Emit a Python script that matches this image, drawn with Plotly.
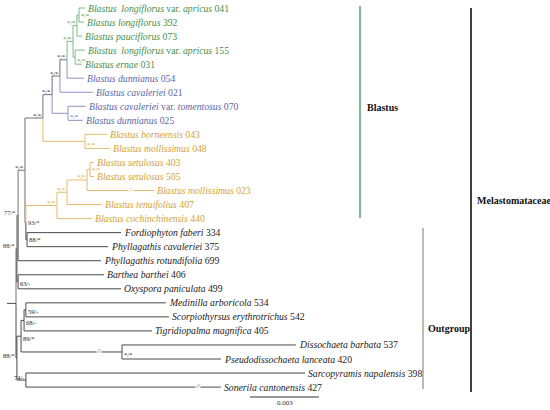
import plotly.graph_objects as go

# ---------------- data ----------------
leaf_labels = [
    "<i>Blastus  longiflorus</i> var. <i>apricus</i> 041",
    "<i>Blastus longiflorus</i> 392",
    "<i>Blastus pauciflorus</i> 073",
    "<i>Blastus  longiflorus</i> var. <i>apricus</i> 155",
    "<i>Blastus ernae</i> 031",
    "<i>Blastus dunnianus</i> 054",
    "<i>Blastus cavaleriei</i> 021",
    "<i>Blastus cavaleriei</i> var. <i>tomentosus</i> 070",
    "<i>Blastus dunnianus</i> 025",
    "<i>Blastus borneensis</i> 043",
    "<i>Blastus mollissimus</i> 048",
    "<i>Blastus setulosus</i> 403",
    "<i>Blastus setulosus</i> 505",
    "<i>Blastus mollissimus</i> 023",
    "<i>Blastus tenuifolius</i> 407",
    "<i>Blastus cochinchinensis</i> 440",
    "<i>Fordiophyton faberi</i> 334",
    "<i>Phyllagathis cavaleriei</i> 375",
    "<i>Phyllagathis rotundifolia</i> 699",
    "<i>Barthea barthei</i> 406",
    "<i>Oxyspora paniculata</i> 499",
    "<i>Medinilla arboricola</i> 534",
    "<i>Scorpiothyrsus erythrotrichus</i> 542",
    "<i>Tigridiopalma magnifica</i> 405",
    "<i>Dissochaeta barbata</i> 537",
    "<i>Pseudodissochaeta lanceata</i> 420",
    "<i>Sarcopyramis napalensis</i> 398",
    "<i>Sonerila cantonensis</i> 427",
]
leaf_ids = ["L%d" % (i + 1) for i in range(28)]
leaf_clade = ["g"] * 5 + ["b"] * 4 + ["y"] * 7 + ["o"] * 12

edge_child = ["U", "T", "Q", "P", "H", "F", "E", "D", "B", "A", "C", "G", "K",
              "R", "O", "N", "M", "L", "S", "V", "W", "Y3", "Y2", "Y1", "Z", "X"] + leaf_ids
edge_parent = ["root", "U", "T", "Q", "P", "H", "F", "E", "D", "B", "D", "H", "P",
               "Q", "R", "O", "N", "M", "R", "U", "root", "W", "Y3", "Y2", "Y3", "W",
               "A", "A", "B", "C", "C", "E", "F", "G", "G", "K", "K", "L", "L", "M",
               "N", "O", "S", "S", "T", "V", "V", "Y1", "Y1", "Y2", "Z", "Z", "X", "X"]
edge_length = [0.00004, 0.00005, 0.00030, 0.00078, 0.00040, 0.00034, 0.00031,
               0.00026, 0.00017, 0.00009, 0.00009, 0.00069, 0.00183,
               0.00004, 0.00135, 0.00044, 0.00087, 0.00013, 0.00005, 0.00005,
               0.00004, 0.00018, 0.00013, 0.00008, 0.00439, 0.00039,
               0.00026, 0.00022, 0.00022, 0.00043, 0.00030, 0.00074, 0.00144,
               0.00078, 0.00065, 0.00096, 0.00109, 0.00017, 0.00017, 0.00291,
               0.00152, 0.00152, 0.00409, 0.00352, 0.00361, 0.00374, 0.00448,
               0.00609, 0.00622, 0.00556, 0.00756, 0.00430, 0.01214, 0.00848]

support_node = ["A", "B", "D", "C", "E", "F", "H", "G", "P", "K", "L", "M", "N",
                "O", "Q", "R", "S", "T", "U", "V", "Y1", "Y2", "Y3", "Z", "W", "X"]
support_text = ["*/*", "*/*", "*/*", "*/*", "*/*", "*/*", "*/*", "*/*", "*/*",
                "*/*", "*/*", "*/*", "*/*", "*/*", "*/*", "93/*", "88/*", "77/*",
                "88/*", "63/-", "59/-", "68/-", "89/*", "*/*", "88/*", "74/-"]
broken_branches = ["L14", "Z", "L28"]
scale_value = 0.003
scale_label = "0.003"
group_labels = ["Blastus", "Outgroup", "Melastomataceae"]

# ---------------- layout helpers ----------------
W, H = 550, 410
PX = 0.003 / 69.0          # data units per pixel
YPX = 14.04                # pixels per leaf row
Y0 = 8.0                   # pixel of first leaf

line_col = {"g": "#7fb98a", "b": "#8c95c4", "y": "#e2bd6e", "o": "#4a4a4a", "mix": "#707070"}
text_col = {"g": "#3f8f4f", "b": "#5a66a6", "y": "#d49f35", "o": "#222222", "mix": "#333333"}
right_side = {"A": 0, "C": -3, "G": -3, "K": -3, "L": 0, "R": 0, "S": 0, "V": -2,
              "Y1": -2, "Y2": -2, "Y3": -2, "Z": -3}

parent_of = dict(zip(edge_child, edge_parent))
blen = dict(zip(edge_child, edge_length))
children = {}
for c, p in zip(edge_child, edge_parent):
    children.setdefault(p, []).append(c)

depth = {"root": 0.0}
def get_depth(n):
    if n not in depth:
        depth[n] = get_depth(parent_of[n]) + blen[n]
    return depth[n]
for n in edge_child:
    get_depth(n)

ypos = {lid: i for i, lid in enumerate(leaf_ids)}
def get_y(n):
    if n not in ypos:
        ys = [get_y(c) for c in children[n]]
        ypos[n] = sum(ys) / len(ys)
    return ypos[n]
get_y("root")

lclade = dict(zip(leaf_ids, leaf_clade))
def clade_of(n):
    if n in lclade:
        return {lclade[n]}
    s = set()
    for c in children[n]:
        s |= clade_of(c)
    return s
def col_key(n):
    s = clade_of(n)
    return s.pop() if len(s) == 1 else "mix"

segs = {}
def add(key, xs, ys):
    d = segs.setdefault(key, ([], []))
    d[0].extend(xs + [None])
    d[1].extend(ys + [None])

FONT = "Liberation Serif"
annotations = []
for c in edge_child:
    p = parent_of[c]
    k = col_key(c)
    px_, py_ = depth[p], ypos[p]
    cx, cy = depth[c], ypos[c]
    add(k, [px_, px_], [py_, cy])
    if c in broken_branches:
        bx = cx - 23 * PX
        add(k, [px_, bx - 2.5 * PX], [cy, cy])
        add(k, [bx + 2.5 * PX, cx], [cy, cy])
        annotations.append(dict(x=bx, y=cy, text="//", showarrow=False,
                                font=dict(family=FONT, size=7, color=line_col[k]),
                                xanchor="center", yanchor="middle", yshift=1))
    else:
        add(k, [px_, cx], [cy, cy])

# root stub
add("o", [-9 * PX, 0.0], [ypos["root"], ypos["root"]])

fig = go.Figure()
for k, (xs, ys) in segs.items():
    fig.add_trace(go.Scatter(x=xs, y=ys, mode="lines",
                             line=dict(color=line_col[k], width=1),
                             hoverinfo="skip"))

# leaf labels
for lid, lab, cl in zip(leaf_ids, leaf_labels, leaf_clade):
    annotations.append(dict(x=depth[lid], y=ypos[lid], text=lab, showarrow=False,
                            xanchor="left", yanchor="middle", xshift=2, borderpad=0,
                            font=dict(family=FONT, size=9.7, color=text_col[cl])))

# support values
for n, t in zip(support_node, support_text):
    k = col_key(n)
    if n in right_side:
        a = dict(xanchor="left", xshift=1, yshift=right_side[n])
    else:
        a = dict(xanchor="right", xshift=-1, yshift=3)
    annotations.append(dict(x=depth[n], y=ypos[n], text=t, showarrow=False,
                            yanchor="middle", borderpad=0,
                            font=dict(family=FONT, size=6.5, color=text_col[k]), **a))

def yv(pix):
    return (pix - Y0) / YPX
def xv(pix):
    return (pix - 16) * PX

# clade bars
bars = [
    (xv(360), yv(6), yv(218), "#5fa873", 1.6),
    (xv(423), yv(228), yv(389), "#777777", 1.0),
    (xv(471), yv(8), yv(392), "#111111", 1.6),
]
for bx, y1, y2, c, w in bars:
    fig.add_trace(go.Scatter(x=[bx, bx], y=[y1, y2], mode="lines",
                             line=dict(color=c, width=w), hoverinfo="skip"))
for (lx, ly), t in zip([(xv(366), yv(107)), (xv(427), yv(328)), (xv(476), yv(200))], group_labels):
    annotations.append(dict(x=lx, y=ly, text="<b>%s</b>" % t, showarrow=False,
                            xanchor="left", yanchor="middle", borderpad=0,
                            font=dict(family=FONT, size=10, color="#111111")))

# scale bar
sx0 = xv(250)
fig.add_trace(go.Scatter(x=[sx0, sx0 + scale_value], y=[yv(397), yv(397)], mode="lines",
                         line=dict(color="#333333", width=1), hoverinfo="skip"))
annotations.append(dict(x=sx0 + scale_value / 2, y=yv(397), text=scale_label, showarrow=False,
                        xanchor="center", yanchor="top", yshift=-1, borderpad=0,
                        font=dict(family=FONT, size=7, color="#333333")))

fig.update_layout(
    width=W, height=H, margin=dict(l=0, r=0, t=0, b=0),
    paper_bgcolor="white", plot_bgcolor="white", showlegend=False,
    xaxis=dict(visible=False, range=[xv(0), xv(550)], fixedrange=True),
    yaxis=dict(visible=False, range=[yv(410), yv(0)], fixedrange=True),
    annotations=annotations,
)
fig.write_html("out.html", config=dict(displayModeBar=False),
               post_script="document.body.style.margin='0';document.body.style.overflow='hidden';")
